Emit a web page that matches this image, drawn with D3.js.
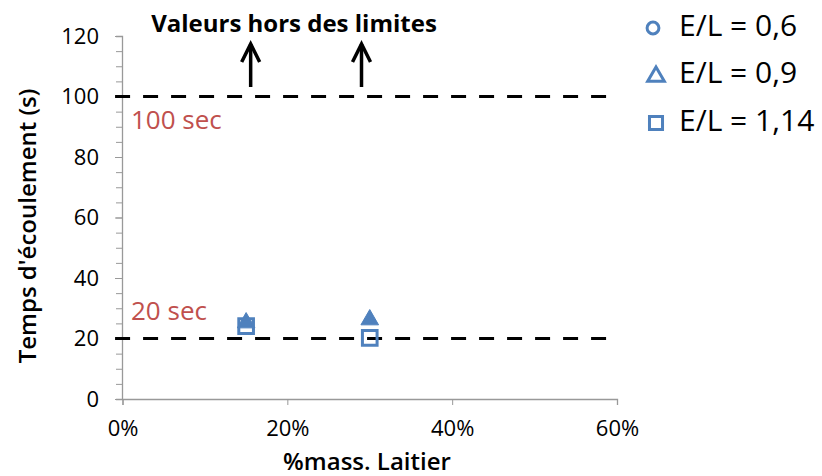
<!DOCTYPE html>
<html><head><meta charset="utf-8">
<script src="https://cdn.jsdelivr.net/npm/d3@7"></script>
<style>body{margin:0;background:#fff;} svg{display:block;font-family:"Open Sans","Noto Sans",sans-serif;}</style>
</head><body>
<svg id="c" width="822" height="476"></svg>
<script>
const seriesNames = ["E/L = 0,6", "E/L = 0,9", "E/L = 1,14"];
const seriesShapes = ["circle", "triangle", "square"];
const xValues = [0.15, 0.30];
const values06 = [null, null];
const values09 = [25.2, 26.2];
const values114 = [24.1, 20.2];
const limitLines = [100, 20];
const limitLabels = ["100 sec", "20 sec"];
const arrowX = [0.1555, 0.29];
const xTicks = [0, 0.2, 0.4, 0.6];
const yTicks = [0, 20, 40, 60, 80, 100, 120];

const svg = d3.select("#c");
const blue = "#4f81bd";
const FF = "'Open Sans','Noto Sans',sans-serif";
const x = d3.scaleLinear().domain([0, 0.6]).range([122.5, 617]);
const y = d3.scaleLinear().domain([0, 120]).range([399, 36]);

// y axis with minor ticks
const yMinor = d3.range(0, 121, 5);
svg.append("g").attr("transform", "translate(122,0)")
  .call(d3.axisLeft(y).tickValues(yMinor).tickSize(6).tickFormat(""))
  .call(g => g.selectAll("line").attr("stroke", "#999"))
  .call(g => g.select(".domain").attr("stroke", "#999").attr("stroke-width", 1.3));
svg.append("g").attr("transform", "translate(122,0)")
  .call(d3.axisLeft(y).tickValues(yTicks).tickSize(7).tickPadding(16).tickFormat(d3.format("d")))
  .call(g => g.select(".domain").remove())
  .call(g => g.selectAll("line").attr("stroke", "#999"))
  .call(g => g.selectAll("text").attr("font-size", 22).attr("fill", "#000").attr("font-family", FF));

// x axis
svg.append("g").attr("transform", "translate(0,399)")
  .call(d3.axisBottom(x).tickValues(xTicks).tickSize(6).tickPadding(15).tickFormat(d3.format(".0%")))
  .call(g => g.select(".domain").attr("stroke", "#999").attr("stroke-width", 1.3))
  .call(g => g.selectAll("line").attr("stroke", "#999"))
  .call(g => g.selectAll("text").attr("font-size", 22).attr("fill", "#000").attr("font-family", FF));

// axis titles
svg.append("text").attr("x", 367).attr("y", 470).attr("text-anchor", "middle")
  .attr("font-size", 24).attr("font-weight", 600).text("%mass. Laitier");
svg.append("text").attr("transform", "translate(36,226) rotate(-90)").attr("text-anchor", "middle")
  .attr("font-size", 24).attr("font-weight", 600).text("Temps d'écoulement (s)");

// limit lines
limitLines.forEach((v, i) => {
  svg.append("line").attr("x1", x(-0.009)).attr("x2", x(0.587))
    .attr("y1", y(v)).attr("y2", y(v))
    .attr("stroke", "#000").attr("stroke-width", 3).attr("stroke-dasharray", "15,13");
});
svg.append("text").attr("x", 131).attr("y", 129).attr("font-size", 26).attr("fill", "#c0504d").text(limitLabels[0]);
svg.append("text").attr("x", 131).attr("y", 320).attr("font-size", 26).attr("fill", "#c0504d").text(limitLabels[1]);

// annotation
svg.append("text").attr("x", 294).attr("y", 32).attr("text-anchor", "middle")
  .attr("font-size", 24).attr("font-weight", 700).text("Valeurs hors des limites");
arrowX.forEach(a => {
  const ax = x(a);
  svg.append("line").attr("x1", ax).attr("x2", ax).attr("y1", 87).attr("y2", 44)
    .attr("stroke", "#000").attr("stroke-width", 3.5);
  svg.append("path").attr("d", `M${ax - 9},${62} L${ax},${44} L${ax + 9},${62}`)
    .attr("fill", "none").attr("stroke", "#000").attr("stroke-width", 3.5).attr("stroke-linejoin", "miter");
});

// markers
const sym = {
  circle: d3.symbol().type(d3.symbolCircle).size(140),
  triangle: d3.symbol().type(d3.symbolTriangle).size(135),
  square: d3.symbol().type(d3.symbolSquare).size(215)
};
const seriesData = [values06, values09, values114];
seriesData.forEach((vals, si) => {
  const shape = seriesShapes[si];
  vals.forEach((v, i) => {
    if (v == null) return;
    const p = svg.append("path").attr("d", sym[shape]())
      .attr("transform", `translate(${x(xValues[i])},${y(v)})`);
    if (shape === "triangle") p.attr("fill", blue).attr("stroke", blue).attr("stroke-width", 1);
    else p.attr("fill", "none").attr("stroke", blue).attr("stroke-width", 3);
  });
});

// legend
const legY = [28, 75, 123];
seriesNames.forEach((n, i) => {
  const shape = seriesShapes[i];
  const s = shape === "circle" ? d3.symbol().type(d3.symbolCircle).size(110)
          : shape === "triangle" ? d3.symbol().type(d3.symbolTriangle).size(120)
          : d3.symbol().type(d3.symbolSquare).size(170);
  svg.append("path").attr("d", s()).attr("transform", `translate(${shape === "circle" ? 653 : 656},${legY[i] + (shape === "triangle" ? 1.5 : 0)})`)
    .attr("fill", "none").attr("stroke", blue).attr("stroke-width", 3);
  svg.append("text").attr("x", 679).attr("y", legY[i] + 8).attr("font-size", 30).text(n);
});
</script>
</body></html>
